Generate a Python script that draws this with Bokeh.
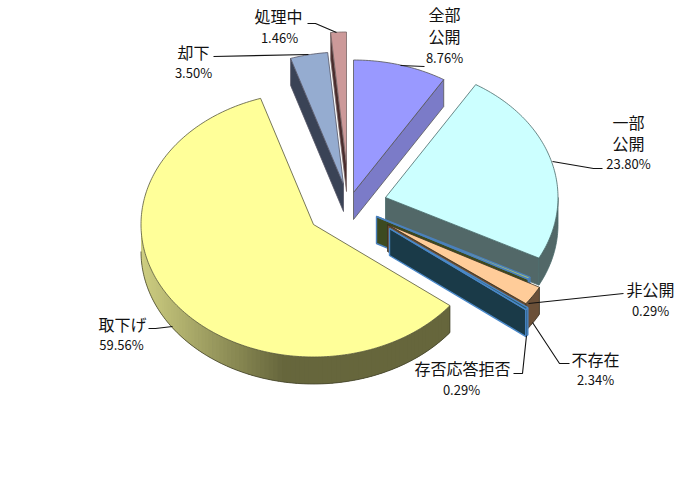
import numpy as np
from bokeh.plotting import figure
from bokeh.core.properties import value
from bokeh.embed import file_html
from bokeh.resources import INLINE

# Data
categories = ["全部公開", "一部公開", "非公開", "不存在", "存否応答拒否", "取下げ", "却下", "処理中"]
shares = [8.76, 23.80, 0.29, 2.34, 0.29, 59.56, 3.50, 1.46]
pct_labels = ["8.76%", "23.80%", "0.29%", "2.34%", "0.29%", "59.56%", "3.50%", "1.46%"]

# Styles and layout (page pixels)
top_colors = ["#9999ff", "#ccffff", "#a8c070", "#ffcc99", "#2a5a70", "#ffff99", "#95acd0", "#cc9999"]
wall_colors = ["#7b7bc8", "#526868", "#3c4a20", "#6b5038", "#1a3a48", "#66663c", "#3a4356", "#4a2c2c"]
edge_colors = ["#555555", "#4a6a6a", "#4a80bc", "#3a3020", "#4a88c8", "#55553a", "#555566", "#776666"]
edge_widths = [0.8, 0.8, 1.4, 0.8, 1.4, 0.8, 0.8, 0.8]
apex_x = [353, 385, 376, 387, 389, 313, 343, 346]
apex_y = [192, 197, 216, 224, 228, 224, 184, 164]
RX, RY, DEPTH = 172.5, 132.5, 27
draw_order = [0, 7, 6, 1, 2, 3, 4, 5]

label_lines = {
    0: [("全部", 444, 13), ("公開", 444, 35)],
    1: [("一部", 628, 121), ("公開", 628, 142)],
    2: [("非公開", 650, 288)],
    3: [("不存在", 595, 358)],
    4: [("存否応答拒否", 462, 367)],
    5: [("取下げ", 122, 323)],
    6: [("却下", 193, 51)],
    7: [("処理中", 278, 15)],
}
pct_pos = [(444, 57), (628, 163), (650, 310), (595, 379), (461, 389), (121, 344), (193, 72), (279, 37)]
leaders = [
    ([400, 424], [65, 66]),
    ([552, 593, 602], [161, 168, 168]),
    ([528, 623], [303, 293]),
    ([532, 559, 569], [322, 363, 363]),
    ([526, 522, 513], [335, 373, 373]),
    ([172, 155, 148], [326, 328, 328]),
    ([308, 213], [54, 56]),
    ([336, 315, 307], [32, 23, 23]),
]

p = figure(width=684, height=484, x_range=(0, 684), y_range=(484, 0),
           output_backend="svg", toolbar_location=None, min_border=0,
           background_fill_color="white", border_fill_color="white")
p.axis.visible = False
p.grid.visible = False
p.outline_line_color = None

edges = np.concatenate([[0.0], np.cumsum(shares)]) / sum(shares) * 360.0


def arc(i, a0, a1, dy=0.0):
    n = max(2, int(abs(a1 - a0)) + 2)
    t = np.radians(np.linspace(a0, a1, n))
    return apex_x[i] + RX * np.sin(t), apex_y[i] - RY * np.cos(t) + dy


def mix(c0, c1, f):
    a = [int(c0[k:k + 2], 16) for k in (1, 3, 5)]
    b = [int(c1[k:k + 2], 16) for k in (1, 3, 5)]
    return "#%02x%02x%02x" % tuple(round(u + (v - u) * f) for u, v in zip(a, b))


for i in draw_order:
    a0, a1 = edges[i], edges[i + 1]
    wc, ec, ew = wall_colors[i], edge_colors[i], edge_widths[i]
    # cut faces facing the viewer
    for a, vis in ((a0, np.sin(np.radians(a0)) < 0), (a1, np.sin(np.radians(a1)) > 0)):
        if vis:
            ex, ey = arc(i, a, a)
            ex, ey = ex[0], ey[0]
            p.patch([apex_x[i], ex, ex, apex_x[i]],
                    [apex_y[i], ey, ey + DEPTH, apex_y[i] + DEPTH],
                    fill_color=wc, line_color=ec, line_width=ew)
    # outer wall
    w0, w1 = max(a0, 90.0), min(a1, 270.0)
    if w1 > w0:
        xt, yt = arc(i, w0, w1)
        if categories[i] == "取下げ":
            # overlapping steps, painted from the far left inward, so that no seam shows
            for s in np.arange(w1 - 1.5, w0 - 1.5, -1.5):
                sa = max(s - 2.0, w0)
                xa, ya = arc(i, sa, min(s + 1.5, w1))
                f = float(np.clip((285 - apex_x[i] - RX * np.sin(np.radians(s))) / 145.0, 0, 1))
                c = mix("#66663c", "#cfcf82", f)
                p.patch(list(xa) + list(xa[::-1]), list(ya) + list(ya[::-1] + DEPTH),
                        fill_color=c, line_color=None)
            p.line(xt, yt + DEPTH, line_color="#44442c", line_width=0.8)
            ex, ey = arc(i, w0, w0)
            p.line([ex[0], ex[0]], [ey[0], ey[0] + DEPTH], line_color="#44442c", line_width=0.8)
        else:
            p.patch(list(xt) + list(xt[::-1]), list(yt) + list(yt[::-1] + DEPTH),
                    fill_color=wc, line_color=ec, line_width=ew)
    # top face
    xt, yt = arc(i, a0, a1)
    p.patch([apex_x[i]] + list(xt), [apex_y[i]] + list(yt),
            fill_color=top_colors[i], line_color=ec, line_width=ew)

for lx, ly in leaders:
    p.line(lx, ly, line_color="#111111", line_width=1.1)

for i in range(len(categories)):
    for txt, x, y in label_lines[i]:
        p.text([x], [y], text=[txt], text_align="center", text_baseline="middle",
               text_font=value("Noto Sans CJK JP"), text_font_size="16px", text_color="#111111")
    x, y = pct_pos[i]
    p.text([x], [y], text=[pct_labels[i]], text_align="center", text_baseline="middle",
           text_font=value("Noto Sans CJK JP"), text_font_size="13px", text_color="#111111")

open("out.html", "w").write(file_html(p, INLINE))
